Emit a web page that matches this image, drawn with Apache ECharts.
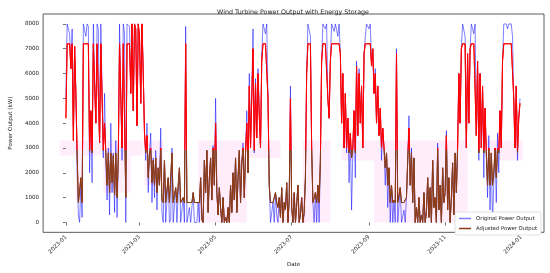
<!DOCTYPE html>
<html>
<head>
<meta charset="utf-8">
<script src="https://cdn.jsdelivr.net/npm/echarts@6/dist/echarts.min.js"></script>
<style>
  html, body { margin: 0; padding: 0; background: #fff; }
  #chart { width: 550px; height: 273px; }
</style>
</head>
<body>
<div id="chart"></div>
<script>
// one reading per day, day 0 = 2023-01-01 (kW)
var originalPower = [
  5000, 8000, 8000, 7600, 6200, 7800, 3900, 7100, 5200, 2100,
  300, 0, 1600, 200, 8000, 8000, 7500, 8000, 7900, 2000,
  4500, 1600, 8000, 8000, 4000, 8000, 7800, 3200, 8000, 8000,
  2600, 5200, 2400, 900, 3000, 300, 4000, 1200, 2800, 400,
  3300, 200, 2500, 8000, 8000, 2500, 8000, 7600, 0, 8000,
  8000, 7900, 5200, 8000, 4500, 8000, 7800, 3900, 8000, 7500,
  4800, 8000, 6000, 3600, 2500, 4000, 1200, 2800, 3600, 800,
  2600, 1000, 2900, 500, 2200, 1500, 3800, 400, 0, 2500,
  0, 0, 1800, 0, 100, 3000, 0, 0, 1400, 0,
  0, 2200, 0, 0, 1000, 0, 7900, 0, 0, 600,
  0, 0, 1200, 0, 0, 0, 800, 0, 1800, 300,
  0, 2500, 1200, 2900, 400, 1800, 2600, 900, 3100, 1500,
  5000, 1200, 300, 1400, 600, 0, 1000, 0, 200, 0,
  600, 0, 1500, 400, 2000, 900, 2600, 400, 1800, 2900,
  800, 2400, 3200, 1000, 2800, 4500, 2000, 6000, 3200, 5200,
  7800, 2800, 5800, 3600, 6200, 4500, 3000, 6800, 8000, 8000,
  7600, 8000, 5000, 1500, 0, 0, 800, 0, 1200, 300,
  0, 1000, 200, 1400, 0, 800, 500, 1600, 0, 900,
  5500, 600, 0, 1200, 0, 700, 1500, 0, 300, 1000,
  0, 400, 1800, 6000, 8000, 8000, 7500, 3000, 800, 0,
  1200, 0, 1500, 0, 2500, 6500, 8000, 8000, 7800, 8000,
  5000, 4200, 6500, 8000, 8000, 7700, 8000, 8000, 7500, 8000,
  6800, 4000, 6000, 3000, 5200, 2800, 4200, 1600, 3600, 500,
  2800, 4500, 1800, 6500, 3500, 6200, 4000, 5500, 3000, 6800,
  7500, 8000, 8000, 7800, 8000, 6500, 7000, 5200, 6200, 4000,
  5500, 3500, 4600, 2500, 3800, 3000, 1500, 2800, 600, 2200,
  0, 1500, 0, 900, 0, 7000, 0, 0, 1400, 0,
  0, 500, 0, 1000, 2500, 4300, 1500, 3000, 800, 2600,
  0, 600, 0, 1000, 0, 300, 0, 1200, 0, 400,
  1800, 200, 1400, 0, 2500, 600, 1000, 0, 3200, 500,
  1500, 0, 2200, 800, 1200, 3700, 500, 1800, 0, 1000,
  2400, 300, 2800, 1200, 3200, 6000, 4000, 7000, 8000, 8000,
  7500, 3000, 6800, 4000, 7000, 8000, 8000, 7600, 8000, 3500,
  6500, 2500, 6000, 3000, 5500, 1800, 4600, 2800, 1000, 3500,
  500, 2800, 0, 1600, 3000, 800, 3600, 2000, 4500, 3000,
  6500, 8000, 8000, 8000, 7800, 8000, 8000, 8000, 7500, 5000,
  3000, 5500, 2500, 4200, 5000
]

var adjustedPower = [
  4200, 7200, 7200, 7200, 6200, 7200, 3300, 7100, 5200, 2800,
  800, 800, 1800, 800, 7200, 7200, 7200, 7200, 7200, 2900,
  4500, 2800, 7200, 7200, 4000, 7200, 7200, 3200, 7200, 7200,
  2900, 4000, 2800, 1500, 2800, 1200, 2800, 1600, 2700, 1100,
  2800, 1000, 2600, 7200, 7200, 3000, 7200, 7200, 1000, 7200,
  7200, 7200, 5200, 8000, 4500, 8000, 7800, 3900, 8000, 7500,
  4800, 8000, 6000, 3600, 2800, 3500, 1800, 2800, 3000, 1600,
  2500, 1500, 2600, 1200, 2200, 1500, 3000, 900, 800, 2500,
  800, 800, 1800, 800, 800, 2800, 800, 800, 1400, 800,
  800, 2200, 800, 800, 1000, 800, 7200, 800, 800, 800,
  800, 800, 1200, 800, 800, 800, 800, 800, 1800, 100,
  0, 2500, 1200, 2900, 400, 1800, 2600, 900, 3000, 1500,
  4000, 1200, 300, 1400, 600, 0, 1000, 0, 200, 0,
  600, 0, 1500, 400, 2000, 900, 2600, 400, 1800, 2900,
  800, 2400, 3000, 1000, 2800, 4000, 2000, 5500, 3000, 5000,
  7000, 2900, 5600, 3400, 6000, 4300, 3000, 6500, 7200, 7200,
  7200, 7200, 5000, 1500, 800, 800, 800, 800, 1200, 800,
  600, 1000, 200, 1400, 0, 800, 500, 1600, 0, 900,
  5000, 600, 0, 1200, 0, 700, 1500, 0, 300, 1000,
  0, 400, 1800, 6000, 7200, 7200, 7200, 3000, 800, 800,
  1200, 800, 1500, 800, 2500, 6500, 7200, 7200, 7200, 7200,
  5000, 4200, 6500, 7200, 7200, 7200, 7200, 7200, 7200, 7200,
  6800, 4000, 6000, 3000, 5200, 3000, 4200, 2800, 3600, 2600,
  3000, 4500, 2800, 6300, 3500, 6000, 4000, 5500, 3000, 6800,
  7200, 7200, 7200, 7200, 7200, 6300, 7000, 5200, 6000, 4000,
  5500, 3500, 4600, 3000, 3800, 3000, 2200, 2800, 1500, 2200,
  800, 1500, 800, 900, 800, 6800, 800, 800, 1400, 800,
  800, 800, 800, 1000, 2500, 3800, 1500, 2800, 800, 2600,
  0, 600, 0, 1000, 0, 300, 0, 1200, 0, 400,
  1800, 200, 1400, 0, 2500, 600, 1000, 0, 3000, 500,
  1500, 0, 2200, 800, 1200, 3500, 500, 1800, 0, 1000,
  2400, 300, 2800, 1200, 3000, 6000, 4000, 7000, 7200, 7200,
  7200, 3000, 6800, 4000, 7000, 7200, 7200, 7200, 7200, 3500,
  6500, 2800, 6000, 3000, 5500, 2800, 4600, 2800, 1500, 3000,
  1500, 2800, 1500, 2000, 3000, 1800, 3000, 2800, 4500, 3000,
  6500, 7200, 7200, 7200, 7200, 7200, 7200, 7200, 7200, 5000,
  3000, 5500, 2800, 4200, 4800
]

// storage shading: [start day, end day, low kW, high kW]
var storageSpans = [
  [-5, 62, 2700, 3300],
  [8, 14, 900, 2700],
  [30, 52, 1200, 2700],
  [63, 78, 1500, 3300],
  [106, 145, 0, 3300],
  [145, 172, 2600, 3300],
  [168, 192, 0, 1000],
  [190, 212, 0, 3300],
  [221, 247, 2500, 3300],
  [247, 322, 0, 3300],
  [337, 366, 2500, 3300]
]

var tickDays = [0, 59, 120, 181, 243, 304, 365]
var tickLabels = ['2023-01', '2023-03', '2023-05', '2023-07', '2023-09', '2023-11', '2024-01']
var yTicks = [0, 1000, 2000, 3000, 4000, 5000, 6000, 7000, 8000]
var colorSplit = 2900 // adjusted line is red above this level, brown below

var origData = []
var adjData = []
for (var i = 0; i < originalPower.length; i++) {
  origData.push([i, originalPower[i]])
  adjData.push([i, adjustedPower[i]])
}
var spanAreas = storageSpans.map(function (s) {
  return [{ coord: [s[0], s[2]] }, { coord: [s[1], s[3]] }]
})

var font = 'DejaVu Sans'
var blue = 'rgba(0,0,255,0.5)'
var brown = '#8b3a14'
var myChart = echarts.init(document.getElementById('chart'))
myChart.setOption({
  animation: false,
  textStyle: { fontFamily: font },
  title: {
    text: 'Wind Turbine Power Output with Energy Storage',
    left: 288,
    top: 4,
    textAlign: 'center',
    textStyle: { fontSize: 6.3, fontWeight: 'normal', color: '#222', fontFamily: font }
  },
  grid: {
    left: 32,
    right: 6,
    top: 14,
    bottom: 35,
    show: true,
    borderColor: '#333',
    borderWidth: 0.8,
    backgroundColor: '#fff'
  },
  legend: {
    orient: 'vertical',
    right: 9,
    bottom: 38,
    itemWidth: 12,
    itemHeight: 1.5,
    itemGap: 5,
    padding: [4, 4, 4, 4],
    backgroundColor: '#fff',
    borderColor: '#ccc',
    borderWidth: 0.6,
    borderRadius: 2,
    textStyle: { fontSize: 5.3, color: '#222', fontFamily: font },
    data: [
      { name: 'Original Power Output', icon: 'rect', itemStyle: { color: blue } },
      { name: 'Adjusted Power Output', icon: 'rect', itemStyle: { color: brown } }
    ]
  },
  xAxis: {
    type: 'value',
    min: -18.25,
    max: 383.25,
    name: 'Date',
    nameLocation: 'middle',
    nameGap: 28,
    nameTextStyle: { fontSize: 5.6, color: '#222' },
    splitLine: { show: false },
    axisLine: { show: false },
    axisTick: { show: true, length: 3, customValues: tickDays, lineStyle: { color: '#333', width: 0.7 } },
    axisLabel: {
      customValues: tickDays,
      rotate: 45,
      fontSize: 5.6,
      color: '#222',
      margin: 4,
      formatter: function (v) {
        var k = tickDays.indexOf(v)
        return k >= 0 ? tickLabels[k] : ''
      }
    }
  },
  yAxis: {
    type: 'value',
    min: -400,
    max: 8400,
    name: 'Power Output (kW)',
    nameLocation: 'middle',
    nameGap: 24,
    nameTextStyle: { fontSize: 5.6, color: '#222' },
    splitLine: { show: false },
    axisLine: { show: false },
    axisTick: { show: true, length: 3, customValues: yTicks, lineStyle: { color: '#333', width: 0.7 } },
    axisLabel: {
      customValues: yTicks,
      fontSize: 5.6,
      color: '#222',
      margin: 4,
      formatter: function (v) { return String(v) }
    }
  },
  series: [
    {
      name: 'Original Power Output',
      type: 'line',
      symbol: 'none',
      data: origData,
      lineStyle: { color: blue, width: 1 },
      itemStyle: { color: blue },
      markArea: {
        silent: true,
        itemStyle: { color: 'rgba(255,0,200,0.07)' },
        data: spanAreas
      },
      z: 2
    },
    {
      name: 'Adjusted Power Output',
      type: 'line',
      symbol: 'none',
      data: adjData,
      lineStyle: { color: brown, width: 1 },
      itemStyle: { color: brown },
      z: 3
    }
  ]
})

// colour the adjusted line red above the split level (global pixel gradient)
var splitY = myChart.convertToPixel({ gridIndex: 0 }, [0, colorSplit])[1]
var h = myChart.getHeight()
var f = splitY / h
myChart.setOption({
  series: [{}, {
    lineStyle: {
      color: new echarts.graphic.LinearGradient(0, 0, 0, h, [
        { offset: 0, color: '#ff0000' },
        { offset: f, color: '#ff0000' },
        { offset: f, color: brown },
        { offset: 1, color: brown }
      ], true)
    }
  }]
})
</script>
</body>
</html>
